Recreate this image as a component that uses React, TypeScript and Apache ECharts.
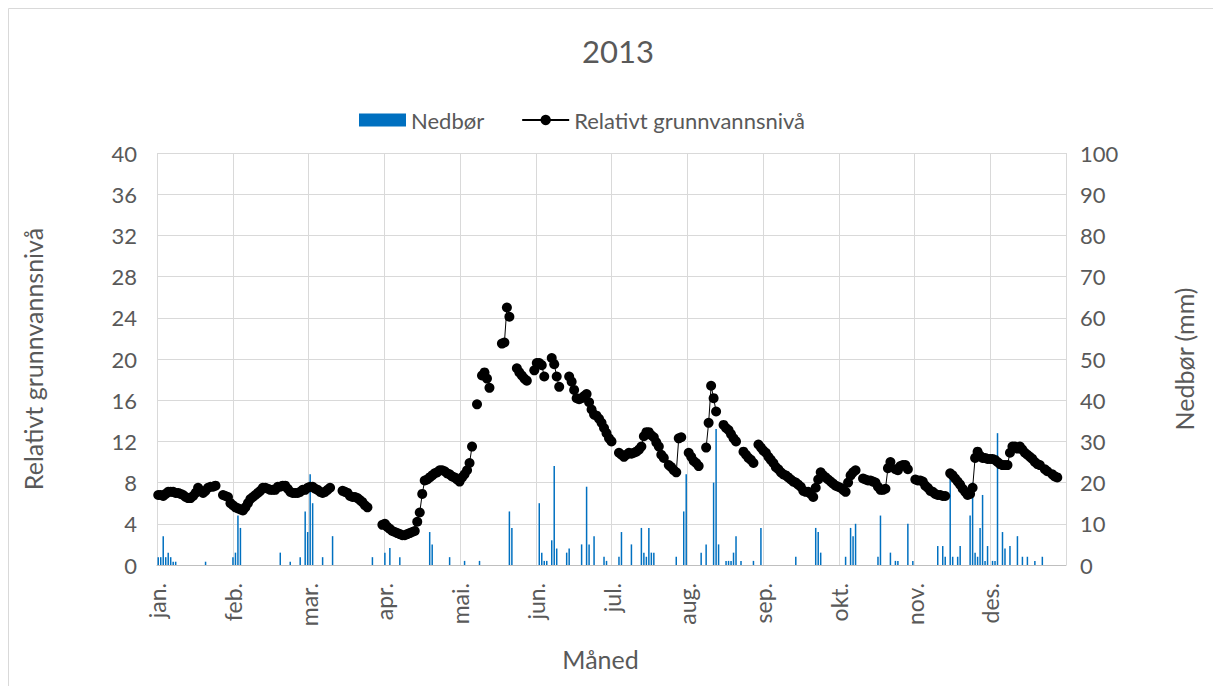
import React, { useEffect, useRef } from 'react';
import * as echarts from 'echarts';

// Month tick labels (Norwegian short names)
const MONTHS = ['jan.', 'feb.', 'mar.', 'apr.', 'mai.', 'jun.', 'jul.', 'aug.', 'sep.', 'okt.', 'nov.', 'des.'];
const DAYS_IN_YEAR = 365;

// Relative groundwater level, one value per day of 2013 (null = no reading)
const groundwater: (number | null)[] = [
  6.8, 6.8, 6.7, 6.9, 7.1, 7.1, 7.1, 7.0, 7.0, 6.9,
  6.8, 6.6, 6.5, 6.5, 6.7, 7.0, 7.5, 7.2, 7.0, 7.2,
  7.5, 7.6, 7.6, 7.7, null, null, 6.8, 6.7, 6.6, 6.0,
  5.8, 5.6, 5.5, 5.4, 5.3, 5.6, 6.0, 6.4, 6.6, 6.8,
  7.0, 7.2, 7.5, 7.5, 7.4, 7.3, 7.3, 7.3, 7.6, 7.6,
  7.7, 7.7, 7.4, 7.1, 7.0, 7.0, 7.0, 7.1, 7.3, 7.3,
  7.5, 7.6, 7.6, 7.4, 7.3, 7.1, 7.0, 7.1, 7.3, 7.5,
  null, null, null, null, 7.2, 7.1, 7.0, 6.7, 6.6, 6.6,
  6.5, 6.3, 6.1, 5.8, 5.6, null, null, null, null, null,
  3.9, 4.0, 3.7, 3.5, 3.3, 3.2, 3.1, 3.0, 2.9, 2.9,
  3.0, 3.1, 3.2, 3.3, 4.2, 5.1, 6.9, 8.2, 8.3, 8.5,
  8.7, 8.9, 9.0, 9.2, 9.2, 9.1, 8.9, 8.8, 8.6, 8.5,
  8.3, 8.1, 8.5, 8.8, 9.2, 9.9, 11.5, null, 15.6, null,
  18.4, 18.7, 18.1, 17.2, null, null, null, null, 21.5, 21.6,
  25.0, 24.1, null, null, 19.1, 18.7, 18.4, 18.1, 17.9, null,
  null, 18.9, 19.6, 19.6, 19.4, 18.3, null, null, 20.1, 19.5,
  18.3, 17.3, null, null, null, 18.3, 17.8, 17.0, 16.2, 16.1,
  16.2, 16.4, 16.6, 15.8, 15.1, 14.6, 14.5, 14.2, 13.8, 13.3,
  12.8, 12.3, 12.0, null, null, 10.9, 10.7, 10.5, 10.7, 10.9,
  10.8, 10.9, 11.0, 11.2, 11.5, 12.5, 12.9, 12.9, 12.6, 12.4,
  11.9, 11.5, 10.7, 10.4, null, 9.7, 9.5, 9.2, 9.0, 12.3,
  12.4, null, null, 10.9, 10.5, 10.1, 9.9, 9.6, null, null,
  11.4, 13.8, 17.4, 16.2, 14.9, null, null, 13.6, 13.3, 13.1,
  12.7, 12.3, 12.0, null, null, 11.0, 10.7, 10.4, 10.2, 9.9,
  null, 11.7, 11.4, 11.1, 10.9, 10.5, 10.2, 9.9, 9.5, 9.3,
  9.0, 8.8, 8.7, 8.5, 8.3, 8.1, 8.0, 7.8, 7.6, 7.2,
  7.1, 7.1, 6.9, 6.6, 7.5, 8.3, 9.0, 8.7, 8.5, 8.3,
  8.1, 7.9, 7.7, 7.6, 7.5, 7.3, 7.1, 8.0, 8.7, 9.0,
  9.2, null, null, 8.4, 8.3, 8.2, 8.2, 8.1, 8.0, 7.6,
  7.3, 7.3, 7.4, 9.4, 10.0, null, 9.3, 9.2, 9.6, 9.7,
  9.7, 9.3, null, null, 8.3, 8.2, 8.2, 8.1, 7.7, 7.5,
  7.2, 7.1, 6.9, 6.8, 6.8, 6.7, 6.7, null, 8.9, 8.7,
  8.4, 8.1, 7.8, 7.4, 7.1, 6.8, 6.9, 7.5, 10.4, 11.0,
  10.6, 10.4, 10.4, 10.3, 10.3, 10.3, 10.2, 10.0, 9.8, 9.7,
  9.7, 9.7, 10.9, 11.5, 11.5, 11.3, 11.5, 11.2, 10.9, 10.7,
  10.5, 10.3, 10.0, 9.8, 9.7, null, 9.3, 9.1, null, 8.8,
  8.6, 8.5, null, null, null,
];

// Daily precipitation (mm)
const precipitation: number[] = [
  1.9, 1.9, 7.0, 1.9, 3.0, 1.9, 0.8, 0.8, 0, 0,
  0, 0, 0, 0, 0, 0, 0, 0, 0, 0.8,
  0, 0, 0, 0, 0, 0, 0, 0, 0, 0,
  1.9, 3.0, 12, 9, 0, 0, 0, 0, 0, 0,
  0, 0, 0, 0, 0, 0, 0, 0, 0, 3.0,
  0, 0, 0, 0.8, 0, 0, 0, 1.9, 0, 13,
  8, 22, 15, 0, 0, 0, 1.9, 0, 0, 0,
  7, 0, 0, 0, 0, 0, 0, 0, 0, 0,
  0, 0, 0, 0, 0, 0, 1.9, 0, 0, 0,
  0, 3, 0, 4.1, 0, 0, 0, 1.9, 0, 0,
  0, 0, 0, 0, 0, 0, 0, 0, 0, 8,
  5, 0, 0, 0, 0, 0, 0, 1.9, 0, 0,
  0, 0, 0, 1, 0, 0, 0, 0, 0, 1,
  0, 0, 0, 0, 0, 0, 0, 0, 0, 0,
  0, 13, 9, 0, 0, 0, 0, 0, 0, 0,
  0, 0, 0, 15, 3, 1, 1, 0, 6, 24,
  4, 0, 0, 0, 3, 4, 0, 0, 0, 0,
  5, 0, 19, 5, 0, 7, 0, 0, 0, 2,
  1, 0, 0, 0, 0, 2, 8, 0, 0, 0,
  5, 0, 0, 0, 9, 3, 2, 9, 3, 3,
  0, 0, 0, 0, 0, 0, 0, 0, 2, 0,
  0, 13, 22, 0, 0, 0, 0, 0, 3, 0,
  5, 0, 0, 20, 33, 5, 0, 0, 1, 1,
  1, 3, 7, 0, 1, 0, 0, 0, 0, 1,
  0, 0, 9, 0, 0, 0, 0, 0, 0, 0,
  0, 0, 0, 0, 0, 0, 2, 0, 0, 0,
  0, 0, 0, 0, 9, 8, 3, 0, 0, 0,
  0, 0, 0, 0, 0, 0, 2, 0, 9, 7,
  10, 0, 0, 0, 0, 0, 0, 0, 0, 2,
  12, 0, 0, 0, 3, 0, 1, 1, 0, 0,
  0, 10, 0, 1, 0, 0, 0, 0, 0, 0,
  0, 0, 0, 4.6, 0, 4.6, 2, 0, 21, 2,
  0, 2, 4.6, 0, 0, 0, 12, 20, 3, 2,
  9, 17, 1, 4.6, 0, 1, 1, 32, 0, 8,
  4, 0, 4.6, 0, 0, 7, 0, 2, 0, 2,
  0, 0, 1, 0, 0, 2, 0, 0, 0, 0,
  0, 0, 0, 0, 0,
];

// Day index -> position on a 0..12 month scale (centre of the day)
const dayPos = (d: number) => ((d + 0.5) * 12) / DAYS_IN_YEAR;

const FONT = 'Lato, "Open Sans", "Noto Sans", sans-serif';
const TEXT = '#595959';
const GRID = '#d9d9d9';

export default function App() {
  const ref = useRef<HTMLDivElement>(null);

  useEffect(() => {
    if (!ref.current) return;
    const chart = echarts.init(ref.current, null, { renderer: 'svg' });

    const rainData = precipitation.map((v, d) => [dayPos(d), v]);
    const gwData = groundwater.map((v, d) => [dayPos(d), v === null ? '-' : v]);

    chart.setOption({
      animation: false,
      backgroundColor: '#ffffff',
      textStyle: { fontFamily: FONT },
      title: {
        text: '2013',
        left: 577,
        top: 30,
        textStyle: { fontSize: 31, fontWeight: 'normal', color: TEXT, fontFamily: FONT },
      },
      legend: {
        left: 354,
        top: 104,
        itemWidth: 47,
        itemHeight: 13,
        itemGap: 37,
        textStyle: { fontSize: 22, color: TEXT, fontFamily: FONT },
        data: [
          { name: 'Nedbør', icon: 'rect' },
          { name: 'Relativt grunnvannsnivå' },
        ],
      },
      graphic: [
        {
          type: 'rect',
          shape: { x: 8.5, y: 8.5, width: 1230, height: 700 },
          style: { fill: 'none', stroke: GRID, lineWidth: 1 },
          silent: true,
        },
      ],
      grid: { left: 157, right: 147, top: 153, bottom: 121 },
      xAxis: {
        type: 'value',
        min: 0,
        max: 12,
        interval: 1,
        name: 'Måned',
        nameLocation: 'middle',
        nameGap: 81,
        nameTextStyle: { fontSize: 25, color: TEXT, fontFamily: FONT, padding: [0, 22, 0, 0] },
        axisLine: { show: true, lineStyle: { color: '#bfbfbf', width: 1 } },
        axisTick: { show: false },
        splitLine: { show: true, lineStyle: { color: GRID, width: 1 } },
        axisLabel: {
          rotate: 90,
          margin: 18,
          fontSize: 23,
          color: TEXT,
          fontFamily: FONT,
          formatter: (v: number) => MONTHS[Math.round(v)] ?? '',
        },
      },
      yAxis: [
        {
          type: 'value',
          position: 'left',
          min: 0,
          max: 40,
          interval: 4,
          name: 'Relativt grunnvannsnivå',
          nameLocation: 'middle',
          nameGap: 112,
          nameTextStyle: { fontSize: 25, color: TEXT, fontFamily: FONT },
          axisLine: { show: false },
          axisTick: { show: false },
          splitLine: { show: true, lineStyle: { color: GRID, width: 1 } },
          axisLabel: { fontSize: 22, color: TEXT, fontFamily: FONT, margin: 20 },
        },
        {
          type: 'value',
          position: 'right',
          min: 0,
          max: 100,
          interval: 10,
          name: 'Nedbør (mm)',
          nameLocation: 'middle',
          nameGap: 105,
          nameTextStyle: { fontSize: 25, color: TEXT, fontFamily: FONT },
          axisLine: { show: false },
          axisTick: { show: false },
          splitLine: { show: false },
          axisLabel: { fontSize: 22, color: TEXT, fontFamily: FONT, margin: 14 },
        },
      ],
      series: [
        {
          name: 'Nedbør',
          type: 'bar',
          yAxisIndex: 1,
          data: rainData,
          barWidth: 1.5,
          itemStyle: { color: '#0070C0' },
          z: 1,
        },
        {
          name: 'Relativt grunnvannsnivå',
          type: 'line',
          yAxisIndex: 0,
          data: gwData,
          connectNulls: false,
          symbol: 'circle',
          symbolSize: 10,
          showAllSymbol: true,
          itemStyle: { color: '#000000' },
          lineStyle: { color: '#000000', width: 1 },
          z: 3,
        },
      ],
    });

    return () => chart.dispose();
  }, []);

  return (
    <div
      ref={ref}
      style={{ position: 'fixed', left: 0, top: 0, width: 1213, height: 686, background: '#fff' }}
    />
  );
}
